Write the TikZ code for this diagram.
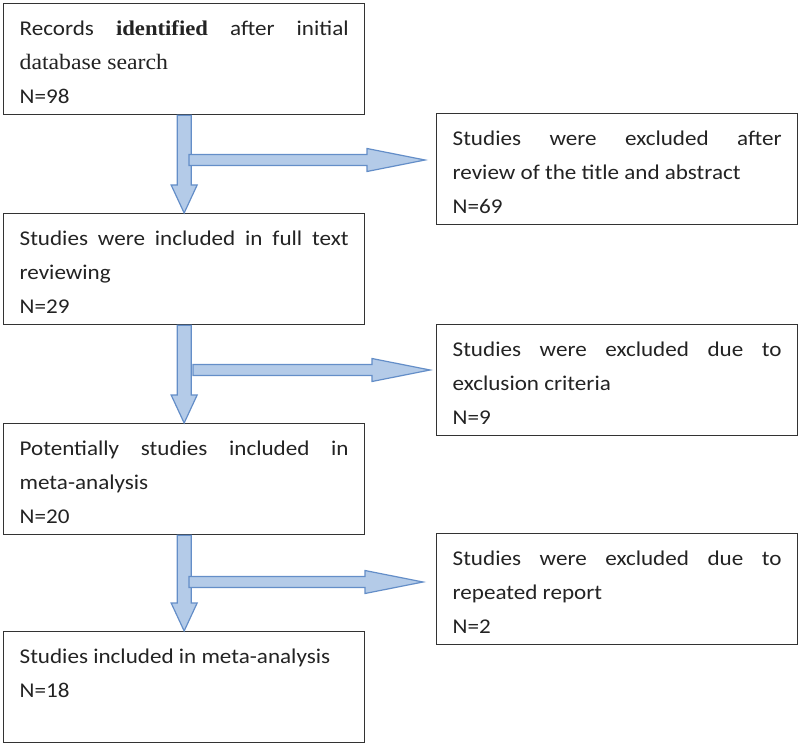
\documentclass[tikz,border=0pt]{standalone}
\usepackage{fontspec}
\setmainfont{Carlito}[FakeStretch=1.1]
\newfontfamily\serifrm{Liberation Serif}[FakeStretch=1.08]
\usetikzlibrary{calc}
\definecolor{arrfill}{RGB}{180,203,232}
\definecolor{arrdraw}{RGB}{100,142,200}
\definecolor{txt}{RGB}{35,35,35}
\newcommand{\btext}[1]{\parbox[c][111pt][t]{329pt}{\hyphenpenalty=10000\exhyphenpenalty=10000\fontsize{21}{34}\selectfont\rule{0pt}{32pt}#1}}
\newcommand{\varrow}[2]{\path[fatarrow] let \p1=(#1), \p2=(#2) in (\x1-7,\y1) -- (\x1-7,\y2+28) -- (\x1-13,\y2+28) -- (\x1,\y2) -- (\x1+13,\y2+28) -- (\x1+7,\y2+28) -- (\x1+7,\y1) -- cycle;}
\newcommand{\harrow}[2]{\path[fatarrow] let \p1=(#1), \p2=(#2) in (\x1,\y1+5.5) -- (\x2-58,\y1+5.5) -- (\x2-58,\y1+11.5) -- (\x2,\y1) -- (\x2-58,\y1-11.5) -- (\x2-58,\y1-5.5) -- (\x1,\y1-5.5) -- cycle;}
\begin{document}
\begin{tikzpicture}[x=1pt,y=-1pt,
  box/.style={draw=black!80, line width=1.3pt, inner xsep=16pt, inner ysep=0pt, fill=white, text=txt, anchor=north west},
  fatarrow/.style={fill=arrfill, draw=arrdraw, line width=1.2pt, line join=miter}]
\useasboundingbox (0,0) rectangle (800,746);
\node[box] (b1) at (3,3) {\btext{Records {\serifrm\bfseries identified} after initial\linebreak {\serifrm\fontsize{22}{34}\selectfont database search}\\ N=98}};
\node[box] (b2) at (436,113) {\btext{Studies were excluded after\linebreak review of the title and abstract\\ N=69}};
\node[box] (b3) at (3,213) {\btext{Studies were included in full text\linebreak reviewing\\ N=29}};
\node[box] (b4) at (436,324) {\btext{Studies were excluded due to\linebreak exclusion criteria\\ N=9}};
\node[box] (b5) at (3,423) {\btext{Potentially studies included in\linebreak meta-analysis\\ N=20}};
\node[box] (b6) at (436,533) {\btext{Studies were excluded due to\linebreak repeated report\\ N=2}};
\node[box] (b7) at (3,631) {\btext{Studies included in meta-analysis\\ N=18}};
\varrow{b1.south}{b3.north}
\varrow{b3.south}{b5.north}
\varrow{b5.south}{b7.north}
\coordinate (h1s) at (189,160);
\coordinate (h1e) at (425,160);
\coordinate (h2s) at (193,370);
\coordinate (h2e) at (430,370);
\coordinate (h3s) at (189,582);
\coordinate (h3e) at (423,582);
\harrow{h1s}{h1e}
\harrow{h2s}{h2e}
\harrow{h3s}{h3e}
\end{tikzpicture}
\end{document}
